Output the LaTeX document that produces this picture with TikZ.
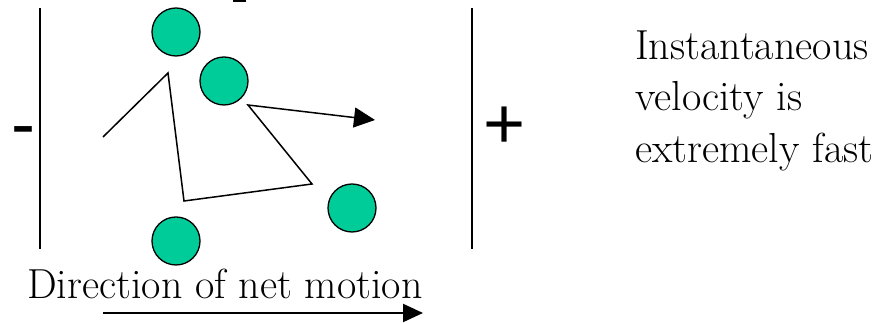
\documentclass[tikz,border=0pt]{standalone}
\usepackage{fontspec}
\newfontfamily\signfont{Liberation Sans}
\usetikzlibrary{arrows.meta}
\definecolor{ballgreen}{HTML}{00CC99}
\tikzset{
  ball/.style={circle,draw=black,line width=1.3pt,fill=ballgreen,minimum size=48pt,inner sep=0pt},
  wall/.style={line width=2pt},
  walkpath/.style={line width=1.5pt},
  lbl/.style={inner sep=0pt,anchor=base west,font=\rmfamily\fontsize{42}{50}\selectfont},
  sign/.style={inner sep=0pt,anchor=base west,font=\signfont\fontsize{72}{80}\selectfont}
}
\begin{document}
\begin{tikzpicture}[x=1pt,y=1pt]
\useasboundingbox (0,0) rectangle (884,323);
% tiny cut-off fragment at top
\fill (233,321) rectangle (246,323);
% walls
\coordinate (lt) at (40,315); \coordinate (lb) at (40,74);
\coordinate (rt) at (472,315); \coordinate (rb) at (472,74);
\draw[wall] (lt) -- (lb);
\draw[wall] (rt) -- (rb);
% signs
\node[sign] (minus) at (10.8,174) {-};
\node[sign] (plus) at (483,174.5) {+};
% balls
\node[ball] (b1) at (176,291) {};
\node[ball] (b2) at (224,242) {};
\node[ball] (b3) at (352,115) {};
\node[ball] (b4) at (176,82) {};
% random walk
\coordinate (p0) at (103,186);
\coordinate (p1) at (168,250);
\coordinate (p2) at (184,122);
\coordinate (p3) at (312,139);
\coordinate (p4) at (248,218);
\coordinate (p5) at (375,203);
\draw[walkpath,line join=miter,-{Triangle[length=21pt,width=20pt]}] (p0) -- (p1) -- (p2) -- (p3) -- (p4) -- (p5);
% net motion
\node[lbl] (dir) at (27,24) {Direction of net motion};
\coordinate (a0) at (103,10);
\coordinate (a1) at (423,10);
\draw[line width=2.2pt,-{Triangle[length=20pt,width=18pt]}] (a0) -- (a1);
% right text
\node[lbl] (t1) at (635,263) {Instantaneous};
\node[lbl] (t2) at (635,212) {velocity is};
\node[lbl] (t3) at (635,160) {extremely fast};
\end{tikzpicture}
\end{document}
